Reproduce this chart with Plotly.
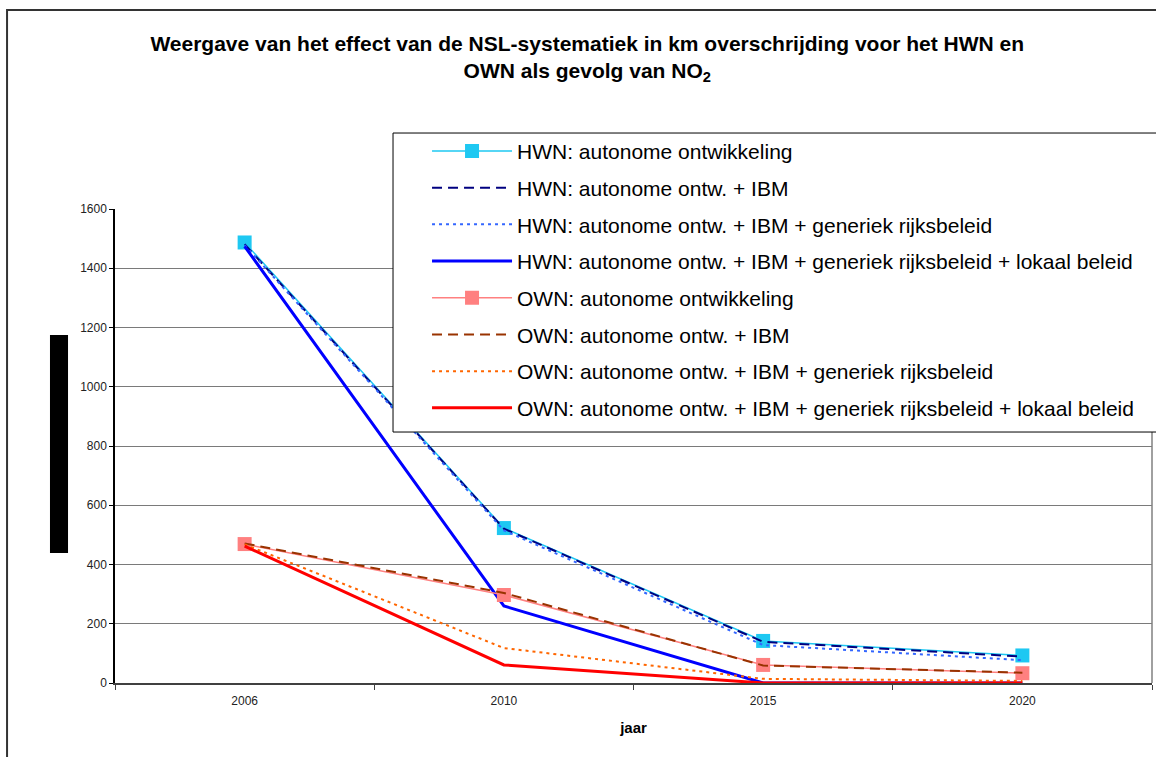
import plotly.graph_objects as go

# Jaren (categorie-as)
jaren = ["2006", "2010", "2015", "2020"]

# Km overschrijding NO2 per scenario
hwn_autonoom = [1487, 523, 142, 93]
hwn_ibm = [1481, 521, 139, 89]
hwn_rijks = [1478, 515, 128, 77]
hwn_lokaal = [1474, 260, 0, 0]
own_autonoom = [469, 297, 61, 33]
own_ibm = [471, 304, 59, 35]
own_rijks = [468, 118, 14, 7]
own_lokaal = [462, 61, 0, 0]

namen = [
    "HWN: autonome ontwikkeling",
    "HWN: autonome ontw. + IBM",
    "HWN: autonome ontw. + IBM + generiek rijksbeleid",
    "HWN: autonome ontw. + IBM + generiek rijksbeleid + lokaal beleid",
    "OWN: autonome ontwikkeling",
    "OWN: autonome ontw. + IBM",
    "OWN: autonome ontw. + IBM + generiek rijksbeleid",
    "OWN: autonome ontw. + IBM + generiek rijksbeleid + lokaal beleid",
]
reeksen = [hwn_autonoom, hwn_ibm, hwn_rijks, hwn_lokaal,
           own_autonoom, own_ibm, own_rijks, own_lokaal]

# lijnstijl per reeks: kleur, dikte, streep, marker
stijlen = [
    ("#1EC8F2", 1.5, "solid", True),
    ("#000080", 2, "10px,6px", False),
    ("#3366FF", 2, "3px,4px", False),
    ("#0000FF", 3, "solid", False),
    ("#FF8080", 1.5, "solid", True),
    ("#993300", 2, "10px,6px", False),
    ("#FF6600", 2, "3px,4px", False),
    ("#FF0000", 3, "solid", False),
]

fig = go.Figure()
for i, (naam, waarden, (kleur, dikte, streep, marker)) in enumerate(zip(namen, reeksen, stijlen)):
    fig.add_trace(go.Scatter(
        x=jaren, y=waarden, name=naam, legendgroup=f"g{i}",
        mode="lines+markers" if marker else "lines",
        line=dict(color=kleur, width=dikte, dash=streep),
        marker=dict(symbol="square", size=14, color=kleur) if marker else None,
    ))

FONT = "Liberation Sans, Arial, sans-serif"

fig.update_layout(
    width=1156, height=757,
    margin=dict(l=115, r=4, t=209, b=74, autoexpand=False),
    paper_bgcolor="white", plot_bgcolor="white",
    font=dict(family=FONT, color="#000000"),
    title=dict(
        text="Weergave van het effect van de NSL-systematiek in km overschrijding voor het HWN en<br>OWN als gevolg van NO<sub>2</sub>",
        x=0.508, xref="container", xanchor="center",
        y=0.933, yref="container", yanchor="top",
        font=dict(family=FONT, size=21, color="#000000", weight="bold"),
    ),
    showlegend=True,
    legend=dict(
        x=0.3009, xref="paper", xanchor="left",
        y=1.165, yref="paper", yanchor="top",
        bgcolor="rgba(0,0,0,0)", borderwidth=0,
        itemwidth=80, tracegroupgap=6.4, traceorder="grouped",
        font=dict(family=FONT, size=21, color="#000000"),
    ),
    xaxis=dict(
        type="category", range=[-0.5, 3.5],
        showgrid=False, showline=True, linecolor="#404040", linewidth=2,
        ticks="outside", tickson="boundaries", ticklen=5, tickcolor="#404040",
        ticklabelstandoff=6,
        tickfont=dict(family=FONT, size=12, color="#222222"),
        title=dict(text="jaar", font=dict(family=FONT, size=15, color="#000000", weight="bold"), standoff=15),
        zeroline=False,
    ),
    yaxis=dict(
        range=[0, 1600], tickvals=[0, 200, 400, 600, 800, 1000, 1200, 1400, 1600],
        showgrid=True, gridcolor="#7a7a7a", gridwidth=1,
        showline=True, linecolor="#000000", linewidth=1.5,
        ticks="outside", ticklen=4, tickcolor="#000000",
        tickfont=dict(family=FONT, size=12, color="#222222"),
        zeroline=False,
    ),
    shapes=[
        # buitenrand van de grafiek
        dict(type="rect", xref="paper", yref="paper", x0=-0.1041, x1=1.2, y0=-0.3, y1=1.4198,
             line=dict(color="#333333", width=2), fillcolor="rgba(0,0,0,0)", layer="above"),
        # rechterrand plotgebied
        dict(type="line", xref="paper", yref="paper", x0=1, x1=1, y0=0, y1=1,
             line=dict(color="#808080", width=1.5), layer="above"),
        # kader van de legenda
        dict(type="rect", xref="paper", yref="paper", x0=0.2681, x1=1.2, y0=0.5295, y1=1.1603,
             line=dict(color="#000000", width=1), fillcolor="white", layer="above"),
        # balk bij de y-as
        dict(type="rect", xref="paper", yref="paper", x0=-0.0627, x1=-0.0453, y0=0.2743, y1=0.7342,
             line=dict(width=0), fillcolor="#000000", layer="above"),
    ],
)

fig.write_html("out.html")
